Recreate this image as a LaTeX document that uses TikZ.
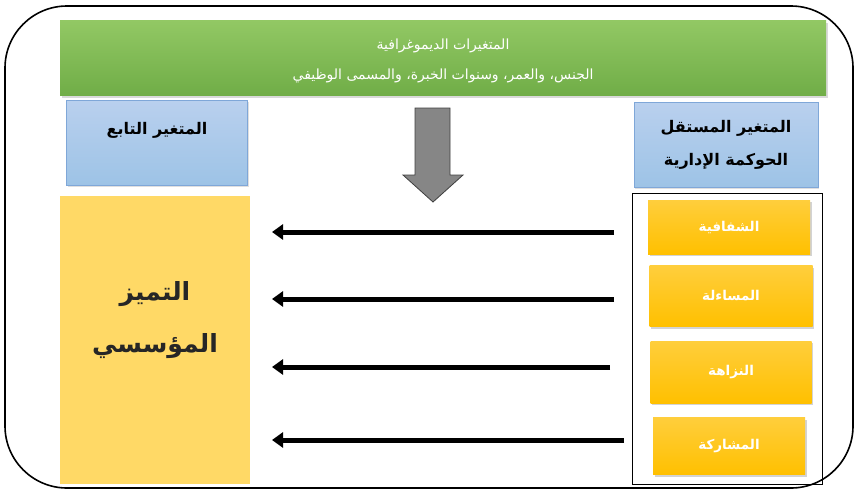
\documentclass[tikz,border=0pt]{standalone}
\usepackage{fontspec}
\newfontfamily\arabicfont[Script=Arabic]{DejaVu Sans}
\TeXXeTstate=1
\usetikzlibrary{arrows.meta, positioning, shadows}
\definecolor{bargreen}{RGB}{112,173,71}
\definecolor{bargreenlight}{RGB}{146,200,100}
\definecolor{boxblue}{RGB}{157,195,230}
\definecolor{boxbluelight}{RGB}{185,208,238}
\definecolor{blueedge}{RGB}{127,167,216}
\definecolor{paleyellow}{RGB}{255,217,102}
\definecolor{gold}{RGB}{255,192,0}
\definecolor{goldlight}{RGB}{255,206,60}

\begin{document}
\begin{tikzpicture}[x=1pt, y=-1pt,
    varbox/.style={draw=blueedge, top color=boxbluelight, bottom color=boxblue, minimum width=181pt, minimum height=85pt, font=\arabicfont\bfseries\fontsize{16}{33}\selectfont, align=center, drop shadow={shadow xshift=1pt, shadow yshift=-1.5pt, opacity=0.25}},
    dimbox/.style={top color=goldlight, bottom color=gold, minimum width=162pt, font=\arabicfont\bfseries\fontsize{13.5}{16}\selectfont, text=white, drop shadow={shadow xshift=1.5pt, shadow yshift=-2pt, opacity=0.35}},
    flow/.style={line width=5pt, -{Triangle[length=11pt, width=15pt]}}]
    \useasboundingbox (0,0) rectangle (859,491);

    \node[draw, line width=1.6pt, rounded corners=62pt, minimum width=848pt, minimum height=482pt] (frame) at (429,247) {};

    % demographic variables
    \node[top color=bargreenlight, bottom color=bargreen, minimum width=766pt, minimum height=75pt, drop shadow={shadow xshift=1.5pt, shadow yshift=-2pt, opacity=0.3}] (demo) at (443,58) {};
    \node[text=white, align=center, font=\arabicfont\fontsize{14}{30}\selectfont] (demotext) at (443,61) {\beginR المتغيرات الديموغرافية\endR\\\beginR الجنس، والعمر، وسنوات الخبرة، والمسمى الوظيفي\endR};

    \node[varbox] (dep) at (157,143) {};
    \node[font=\arabicfont\bfseries\fontsize{16}{20}\selectfont] (deptext) at (157,130) {\beginR المتغير التابع\endR};
    \node[varbox, minimum width=184pt] (indep) at (726,145) {\beginR المتغير المستقل\endR\\\beginR الحوكمة الإدارية\endR};

    % moderating arrow
    \draw[fill=gray!95, draw=black!75, line width=0.8pt] (415,108) -- (450,108) -- (450,175) -- (463,175) -- (433,202) -- (403,175) -- (415,175) -- cycle;

    \node[fill=paleyellow, minimum width=190pt, minimum height=288pt] (excel) at (155,340) {};
    \node[align=center, font=\arabicfont\bfseries\fontsize{25}{52}\selectfont, text=black!85] (exceltext) at (155,320) {\beginR التميز\endR\\\beginR المؤسسي\endR};

    \node[draw, line width=0.8pt, minimum width=190pt, minimum height=291pt] (dims) at (727,338.5) {};
    \node[dimbox, minimum height=54pt] (d1) at (729,227) {\beginR الشفافية\endR};
    \node[dimbox, minimum width=163pt, minimum height=61pt] (d2) at (731,296) {\beginR المساءلة\endR};
    \node[dimbox, minimum width=161pt, minimum height=62pt] (d3) at (731,372) {\beginR النزاهة\endR};
    \node[dimbox, minimum width=152pt, minimum height=57pt] (d4) at (729,446) {\beginR المشاركة\endR};

    \coordinate (s1) at (614,232);
    \coordinate (s2) at (614,299);
    \coordinate (s3) at (610,367);
    \coordinate (s4) at (624,440);
    \foreach \i in {1,...,4}
        \draw[flow] (s\i) -- (272,0 |- s\i);
\end{tikzpicture}
\end{document}
